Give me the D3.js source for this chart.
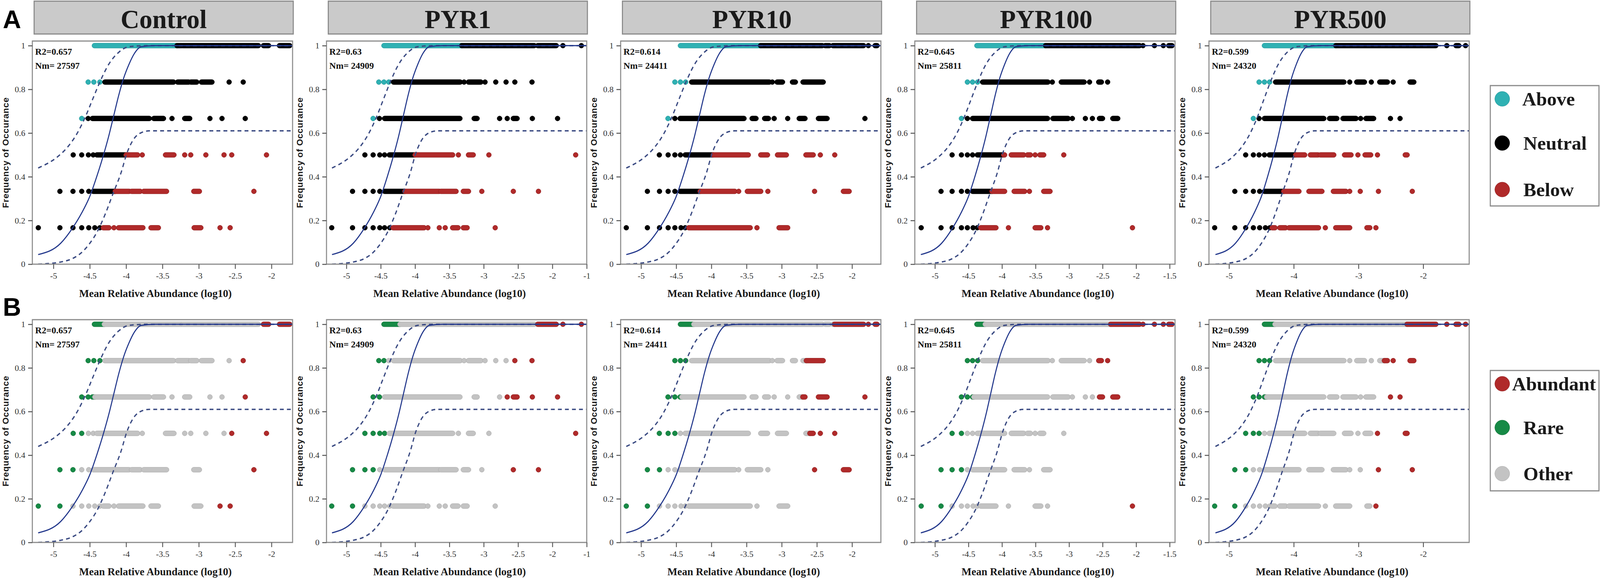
<!DOCTYPE html>
<html>
<head>
<meta charset="utf-8">
<script src="https://cdn.jsdelivr.net/npm/d3@7"></script>
<style>
  html, body { margin: 0; padding: 0; background: #fff; overflow: hidden; }
  svg text { font-family: "Liberation Serif", "Times New Roman", serif; }
</style>
</head>
<body>
<div class="canva"></div>
<script>
const W = 4550, H = 1479;

// panels
const panelNames = ['Control', 'PYR1', 'PYR10', 'PYR100', 'PYR500'];
const r2Values = ['0.657', '0.63', '0.614', '0.645', '0.599'];
const nmValues = ['27597', '24909', '24411', '25811', '24320'];

// x axes (log10 mean relative abundance)
const xDomains = [[-5.29, -1.71], [-5.29, -1.50], [-5.29, -1.59], [-5.30, -1.42], [-5.31, -1.29]];
const xTickValues = [
  [-5, -4.5, -4, -3.5, -3, -2.5, -2],
  [-5, -4.5, -4, -3.5, -3, -2.5, -2, -1.5],
  [-5, -4.5, -4, -3.5, -3, -2.5, -2],
  [-5, -4.5, -4, -3.5, -3, -2.5, -2, -1.5],
  [-5, -4, -3, -2]
];
const xTickLabels = [
  ['-5', '-4.5', '-4', '-3.5', '-3', '-2.5', '-2'],
  ['-5', '-4.5', '-4', '-3.5', '-3', '-2.5', '-2', '-1'],
  ['-5', '-4.5', '-4', '-3.5', '-3', '-2.5', '-2'],
  ['-5', '-4.5', '-4', '-3.5', '-3', '-2.5', '-2', '-1.5'],
  ['-5', '-4', '-3', '-2']
];
const yTickValues = [0, 0.2, 0.4, 0.6, 0.8, 1];
const yTickLabels = ['0', '0.2', '0.4', '0.6', '0.8', '1'];

// frequency levels (6 samples), top row first
const freqRows = [1, 0.8333, 0.6667, 0.5, 0.3333, 0.1667];

// neutral model fit and 95% bounds
const fitX = [-5.21, -4.90, -4.74, -4.61, -4.50, -4.40, -4.32, -4.24, -4.17, -4.10, -4.03, -3.96, -3.89, -3.79, -3.60, -1.0];
const fitY = [0.044, 0.096, 0.164, 0.235, 0.31, 0.405, 0.49, 0.585, 0.68, 0.775, 0.855, 0.915, 0.962, 0.995, 1.0, 1.0];
const upperX = [-5.21, -4.93, -4.82, -4.68, -4.57, -4.46, -4.35, -4.24, -4.10, -3.96, -3.70, -1.0];
const upperY = [0.44, 0.495, 0.53, 0.595, 0.667, 0.755, 0.842, 0.914, 0.97, 0.995, 1.0, 1.0];
const lowerX = [-5.21, -4.90, -4.73, -4.62, -4.51, -4.40, -4.29, -4.18, -4.07, -3.99, -3.90, -3.79, -3.68, -1.0];
const lowerY = [0.0, 0.01, 0.027, 0.051, 0.091, 0.147, 0.227, 0.323, 0.418, 0.507, 0.57, 0.602, 0.61, 0.61];

// OTU positions per frequency row: [x] single point, [x1, x2] dense run of points
const controlRuns = [
  [[-4.436, -3.236], [-3.22, -2.18], [-2.11, -2.04], [-1.89, -1.75]],
  [[-4.522], [-4.444], [-4.361], [-4.292, -3.347], [-3.292, -3.139], [-3.111, -3.028], [-2.964, -2.819], [-2.583], [-2.389]],
  [[-4.611], [-4.522], [-4.464, -3.681], [-3.619, -3.486], [-3.369], [-3.194, -3.125], [-2.847], [-2.681], [-2.361]],
  [[-4.728], [-4.611], [-4.519], [-4.453], [-4.403, -3.842], [-3.778], [-3.458, -3.342], [-3.194], [-3.111], [-2.903], [-2.653], [-2.547], [-2.069]],
  [[-4.911], [-4.731], [-4.611], [-4.514], [-4.453, -3.958], [-3.925, -3.806], [-3.758, -3.444], [-3.069, -2.992], [-2.242]],
  [[-5.208], [-4.911], [-4.731], [-4.611], [-4.514], [-4.431], [-4.361], [-4.314, -4.236], [-4.167], [-4.103, -3.769], [-3.658, -3.556], [-3.064, -2.972], [-2.708], [-2.569]]
];
const pyr1Runs = [
  [[-4.453, -2.264], [-2.214, -1.944], [-1.847], [-1.578]],
  [[-4.528], [-4.453], [-4.383], [-4.314, -3.342], [-3.286], [-3.222, -3.042], [-2.981], [-2.825], [-2.675], [-2.547], [-2.297]],
  [[-4.611], [-4.519], [-4.444, -3.347], [-3.139, -3.097], [-2.769], [-2.658], [-2.569, -2.514], [-2.292], [-1.925]],
  [[-4.731], [-4.611], [-4.514], [-4.444], [-4.375, -3.453], [-3.369], [-3.222, -3.153], [-2.925], [-1.661]],
  [[-4.911], [-4.731], [-4.611], [-4.514], [-4.444, -3.647], [-3.625, -3.403], [-3.297, -3.222], [-3.028], [-2.569], [-2.203]],
  [[-5.214], [-4.911], [-4.731], [-4.611], [-4.514], [-4.444], [-4.369], [-4.319, -3.869], [-3.814], [-3.647], [-3.561], [-3.453, -3.375], [-3.297, -3.242], [-2.833]]
];
const pyr10Runs = [
  [[-4.440, -2.423], [-2.383, -2.322], [-2.273, -1.836], [-1.768], [-1.672, -1.645]],
  [[-4.519], [-4.440], [-4.366], [-4.281, -3.175], [-3.134], [-3.066, -2.989], [-2.847, -2.806], [-2.697, -2.410]],
  [[-4.617], [-4.519], [-4.445, -3.536], [-3.421, -3.366], [-3.243, -3.189], [-3.107], [-2.915], [-2.751, -2.669], [-2.478, -2.355], [-1.817]],
  [[-4.740], [-4.615], [-4.519], [-4.440], [-4.372, -3.475], [-3.298, -3.202], [-3.060, -2.934], [-2.656, -2.552], [-2.451], [-2.246]],
  [[-4.910], [-4.738], [-4.615], [-4.519], [-4.445, -3.667], [-3.612], [-3.489, -3.298], [-3.197], [-2.533], [-2.123, -2.041]],
  [[-5.210], [-4.910], [-4.738], [-4.615], [-4.519], [-4.432], [-4.372], [-4.322, -3.448], [-3.352], [-3.038, -2.915]]
];
const pyr100Runs = [
  [[-4.374, -1.949], [-1.898], [-1.727], [-1.594], [-1.514, -1.466]],
  [[-4.516], [-4.439], [-4.363], [-4.289, -3.315], [-3.250], [-3.116, -2.775], [-2.695], [-2.558, -2.518], [-2.425]],
  [[-4.605], [-4.516], [-4.439, -3.321], [-3.241, -3.014], [-2.951], [-2.757], [-2.652], [-2.547, -2.501], [-2.348, -2.274]],
  [[-4.744], [-4.605], [-4.516], [-4.439], [-4.368, -3.961], [-3.862, -3.677], [-3.620, -3.577], [-3.506], [-3.435, -3.378], [-3.079]],
  [[-4.909], [-4.744], [-4.605], [-4.516], [-4.439, -3.961], [-3.819, -3.662], [-3.591], [-3.378, -3.284]],
  [[-5.205], [-4.909], [-4.744], [-4.605], [-4.516], [-4.431], [-4.368], [-4.317, -4.090], [-3.904], [-3.506, -3.421], [-3.321], [-2.055]]
];
const pyr500Runs = [
  [[-4.453, -1.805], [-1.636], [-1.494, -1.450], [-1.346]],
  [[-4.536], [-4.453], [-4.373], [-4.281, -3.225], [-3.136], [-3.027, -2.908], [-2.802], [-2.672, -2.553], [-2.464], [-2.204, -2.145]],
  [[-4.624], [-4.536], [-4.453, -3.536], [-3.447, -3.334], [-3.240, -3.038], [-2.967], [-2.885, -2.766], [-2.506], [-2.358]],
  [[-4.743], [-4.624], [-4.536], [-4.453], [-4.379, -3.831], [-3.743, -3.624], [-3.589, -3.382], [-3.216, -3.115], [-3.009], [-2.899, -2.811], [-2.707], [-2.278, -2.249]],
  [[-4.911], [-4.743], [-4.624], [-4.527], [-4.453, -3.920], [-3.766, -3.565], [-3.388, -3.195], [-3.136], [-2.973], [-2.692], [-2.169]],
  [[-5.222], [-4.911], [-4.743], [-4.624], [-4.527], [-4.438], [-4.370], [-4.334, -4.290], [-4.216, -4.127], [-4.074, -3.618], [-3.512], [-3.352, -3.136], [-2.870, -2.825], [-2.731]]
];
const panelRuns = [controlRuns, pyr1Runs, pyr10Runs, pyr100Runs, pyr500Runs];

// class limits per row (A: above / below the model, B: rare / abundant)
const aboveCut = [
  [-3.30, -4.33, -4.58, -9, -9, -9],
  [-3.32, -4.33, -4.58, -9, -9, -9],
  [-3.30, -4.33, -4.58, -9, -9, -9],
  [-3.35, -4.33, -4.58, -9, -9, -9],
  [-3.35, -4.33, -4.58, -9, -9, -9]
];
const belowCut = [
  [9, 9, 9, -4.0, -4.15, -4.33],
  [9, 9, 9, -4.0, -4.15, -4.33],
  [9, 9, 9, -3.975, -4.16, -4.34],
  [9, 9, 9, -3.975, -4.15, -4.34],
  [9, 9, 9, -3.97, -4.155, -4.35]
];
const rareCut = [
  [-4.30, -4.35, -4.43, -4.6, -4.7, -4.8],
  [-4.22, -4.42, -4.5, -4.42, -4.58, -4.85],
  [-4.25, -4.35, -4.42, -4.5, -4.7, -4.85],
  [-4.25, -4.33, -4.42, -4.6, -4.6, -4.85],
  [-4.29, -4.33, -4.42, -4.5, -4.7, -4.8]
];
const abundCut = [
  [-2.15, -2.45, -2.4, -2.6, -2.4, -2.8],
  [-2.22, -2.6, -2.68, -2.0, -2.6, 9],
  [-2.25, -2.65, -2.7, -2.6, -2.6, 9],
  [-2.38, -2.57, -2.56, 9, 9, -2.2],
  [-2.25, -2.6, -2.55, -2.72, -2.7, -2.75]
];

const legendA = ['Above', 'Neutral', 'Below'];
const legendB = ['Abundant', 'Rare', 'Other'];

// colours
const colA = [{fill: '#2fb1b3', stroke: '#1f9296'}, {fill: '#000', stroke: '#000'}, {fill: '#b02a2a', stroke: '#8f1f1f'}];
const colB = [{fill: '#178a46', stroke: '#0f6f36'}, {fill: '#c3c3c3', stroke: '#acacac'}, {fill: '#b02a2a', stroke: '#8f1f1f'}];

// the figure is laid out on a 4550 x 1479 grid stretched over the window;
// text and dots get a counter-scale so they stay undistorted and still fit
const vw = window.innerWidth || W, vh = window.innerHeight || H;
const sx = vw / W, sy = vh / H, s = Math.min(sx, sy);
const kx = s / sx, ky = s / sy;

const svg = d3.select('.canva').append('svg')
  .attr('viewBox', `0 0 ${W} ${H}`)
  .attr('preserveAspectRatio', 'none')
  .style('width', '100vw')
  .style('height', '100vh')
  .style('display', 'block')
  .style('background', '#fff');

// text helper: anchored at (x, y), not stretched
function addText(parent, x, y, str, rot) {
  return parent.append('text')
    .attr('transform', `translate(${x},${y}) scale(${kx},${ky})` + (rot ? ` rotate(${rot})` : ''))
    .text(str);
}

const left0 = 92, pitch = 836.5, plotW = 740, rPt = 7;
const blocks = [
  {key: 'A', top: 105, bottom: 676},
  {key: 'B', top: 818, bottom: 1388}
];

// split a run at the two class limits -> pieces of class 0 / 1 / 2
function splitRun(a, e, c1, c2) {
  const out = [];
  if (a <= c1) out.push({x1: a, x2: Math.min(e, c1), k: 0});
  const m1 = Math.max(a, c1), m2 = Math.min(e, c2);
  if (e > c1 && a < c2 && m1 <= m2) out.push({x1: m1, x2: m2, k: 1});
  if (e >= c2) out.push({x1: Math.max(a, c2), x2: e, k: 2});
  return out;
}

panelNames.forEach((name, i) => {
  const left = left0 + i * pitch;
  const x = d3.scaleLinear().domain(xDomains[i]).range([left, left + plotW]);

  // strip header
  svg.append('rect')
    .attr('x', left + 5).attr('y', 3)
    .attr('width', plotW - 3).attr('height', 84)
    .attr('fill', '#cacaca').attr('stroke', '#8a8a8a').attr('stroke-width', 3);
  addText(svg, left + 5 + (plotW - 3) / 2, 72, name)
    .attr('text-anchor', 'middle')
    .style('font-size', '74px').style('font-weight', 'bold').attr('fill', '#1a1a1a');

  blocks.forEach(b => {
    const y = d3.scaleLinear().domain([0, 1.021]).range([b.bottom, b.top]);
    const g = svg.append('g');
    const clipId = 'clip' + b.key + i;
    g.append('clipPath').attr('id', clipId)
      .append('rect').attr('x', left).attr('y', b.top).attr('width', plotW).attr('height', b.bottom - b.top);

    const cols = b.key === 'A' ? colA : colB;
    const pts = g.append('g');
    const rx = rPt * kx, ry = rPt * ky;
    panelRuns[i].forEach((row, ri) => {
      const c1 = b.key === 'A' ? aboveCut[i][ri] : rareCut[i][ri];
      const c2 = b.key === 'A' ? belowCut[i][ri] : abundCut[i][ri];
      const fy = freqRows[ri];
      row.forEach(run => {
        const a = run[0], e = run.length > 1 ? run[1] : run[0];
        splitRun(a, e, c1, c2).forEach(p => {
          pts.append('rect')
            .attr('x', x(p.x1) - rx)
            .attr('y', y(fy) - ry)
            .attr('width', x(p.x2) - x(p.x1) + 2 * rx)
            .attr('height', 2 * ry)
            .attr('rx', rx).attr('ry', ry)
            .attr('fill', cols[p.k].fill)
            .attr('stroke', cols[p.k].stroke)
            .attr('stroke-width', 1);
        });
      });
    });

    // neutral model curves
    const line = d3.line().x(d => x(d[0])).y(d => y(d[1])).curve(d3.curveMonotoneX);
    const lines = g.append('g').attr('clip-path', `url(#${clipId})`);
    lines.append('path').datum(d3.zip(upperX, upperY)).attr('d', line)
      .attr('fill', 'none').attr('stroke', '#3a4a82').attr('stroke-width', 3.5).attr('stroke-dasharray', '11,9');
    lines.append('path').datum(d3.zip(lowerX, lowerY)).attr('d', line)
      .attr('fill', 'none').attr('stroke', '#3a4a82').attr('stroke-width', 3.5).attr('stroke-dasharray', '11,9');
    lines.append('path').datum(d3.zip(fitX, fitY)).attr('d', line)
      .attr('fill', 'none').attr('stroke', '#23388c').attr('stroke-width', 3);

    // frame
    g.append('rect')
      .attr('x', left).attr('y', b.top).attr('width', plotW).attr('height', b.bottom - b.top)
      .attr('fill', 'none').attr('stroke', '#8c8c8c').attr('stroke-width', 3);

    // axes
    const xAxis = g.append('g').attr('transform', `translate(0,${b.bottom})`)
      .call(d3.axisBottom(x).tickValues(xTickValues[i]).tickFormat((d, k) => xTickLabels[i][k]).tickSize(12).tickPadding(10));
    const yAxis = g.append('g').attr('transform', `translate(${left},0)`)
      .call(d3.axisLeft(y).tickValues(yTickValues).tickFormat((d, k) => yTickLabels[k]).tickSize(12).tickPadding(8));
    [xAxis, yAxis].forEach(ax => {
      ax.select('.domain').remove();
      ax.selectAll('.tick line').attr('stroke', '#555').attr('stroke-width', 2.5);
      ax.selectAll('.tick text')
        .style('font-family', '"Liberation Serif", serif')
        .style('font-size', '24px').attr('fill', '#333')
        .each(function() {
          const t = d3.select(this);
          const tx = +t.attr('x') || 0, ty = +t.attr('y') || 0;
          t.attr('x', null).attr('y', null)
            .attr('transform', `translate(${tx},${ty}) scale(${kx},${ky})`);
        });
    });

    // fit stats
    addText(g, left + 8, b.top + 35, 'R2=' + r2Values[i])
      .style('font-size', '26px').style('font-weight', 'bold').attr('fill', '#111');
    addText(g, left + 8, b.top + 71, 'Nm= ' + nmValues[i])
      .style('font-size', '26px').style('font-weight', 'bold').attr('fill', '#111');

    // axis titles
    addText(g, left + plotW / 2 - 20, b.bottom + 84, 'Mean Relative Abundance (log10)')
      .attr('text-anchor', 'middle')
      .style('font-size', '30px').style('font-weight', 'bold').attr('fill', '#1a1a1a');
    addText(g, left - 76, (b.top + b.bottom) / 2, 'Frequency of Occurance', -90)
      .attr('text-anchor', 'middle').attr('dy', '0.35em')
      .style('font-family', '"Liberation Sans", Arial, sans-serif')
      .style('font-size', '25px').style('font-weight', 'bold').style('letter-spacing', '1px')
      .attr('fill', '#1a1a1a');
  });
});

// panel letters
addText(svg, 8, 72, 'A')
  .style('font-family', '"Liberation Sans", Arial, sans-serif')
  .style('font-size', '72px').style('font-weight', 'bold');
addText(svg, 8, 808, 'B')
  .style('font-family', '"Liberation Sans", Arial, sans-serif')
  .style('font-size', '72px').style('font-weight', 'bold');

// legends
function drawLegend(labels, cols, boxTop, rowYs, textXs) {
  svg.append('rect')
    .attr('x', 4238).attr('y', boxTop).attr('width', 309).attr('height', 308)
    .attr('fill', '#fff').attr('stroke', '#8a8a8a').attr('stroke-width', 3);
  labels.forEach((lab, k) => {
    svg.append('ellipse')
      .attr('cx', 4272).attr('cy', rowYs[k]).attr('rx', 21 * kx).attr('ry', 21 * ky)
      .attr('fill', cols[k].fill).attr('stroke', cols[k].stroke).attr('stroke-width', 1);
    addText(svg, textXs[k], rowYs[k], lab)
      .attr('dy', '0.35em')
      .style('font-size', '55px').style('font-weight', 'bold')
      .attr('fill', '#1a1a1a');
  });
}
drawLegend(legendA, colA, 219, [253, 366, 485], [4329, 4332, 4332]);
drawLegend(legendB, [colB[2], colB[0], colB[1]], 948, [982, 1094, 1212], [4300, 4332, 4332]);
</script>
</body>
</html>
